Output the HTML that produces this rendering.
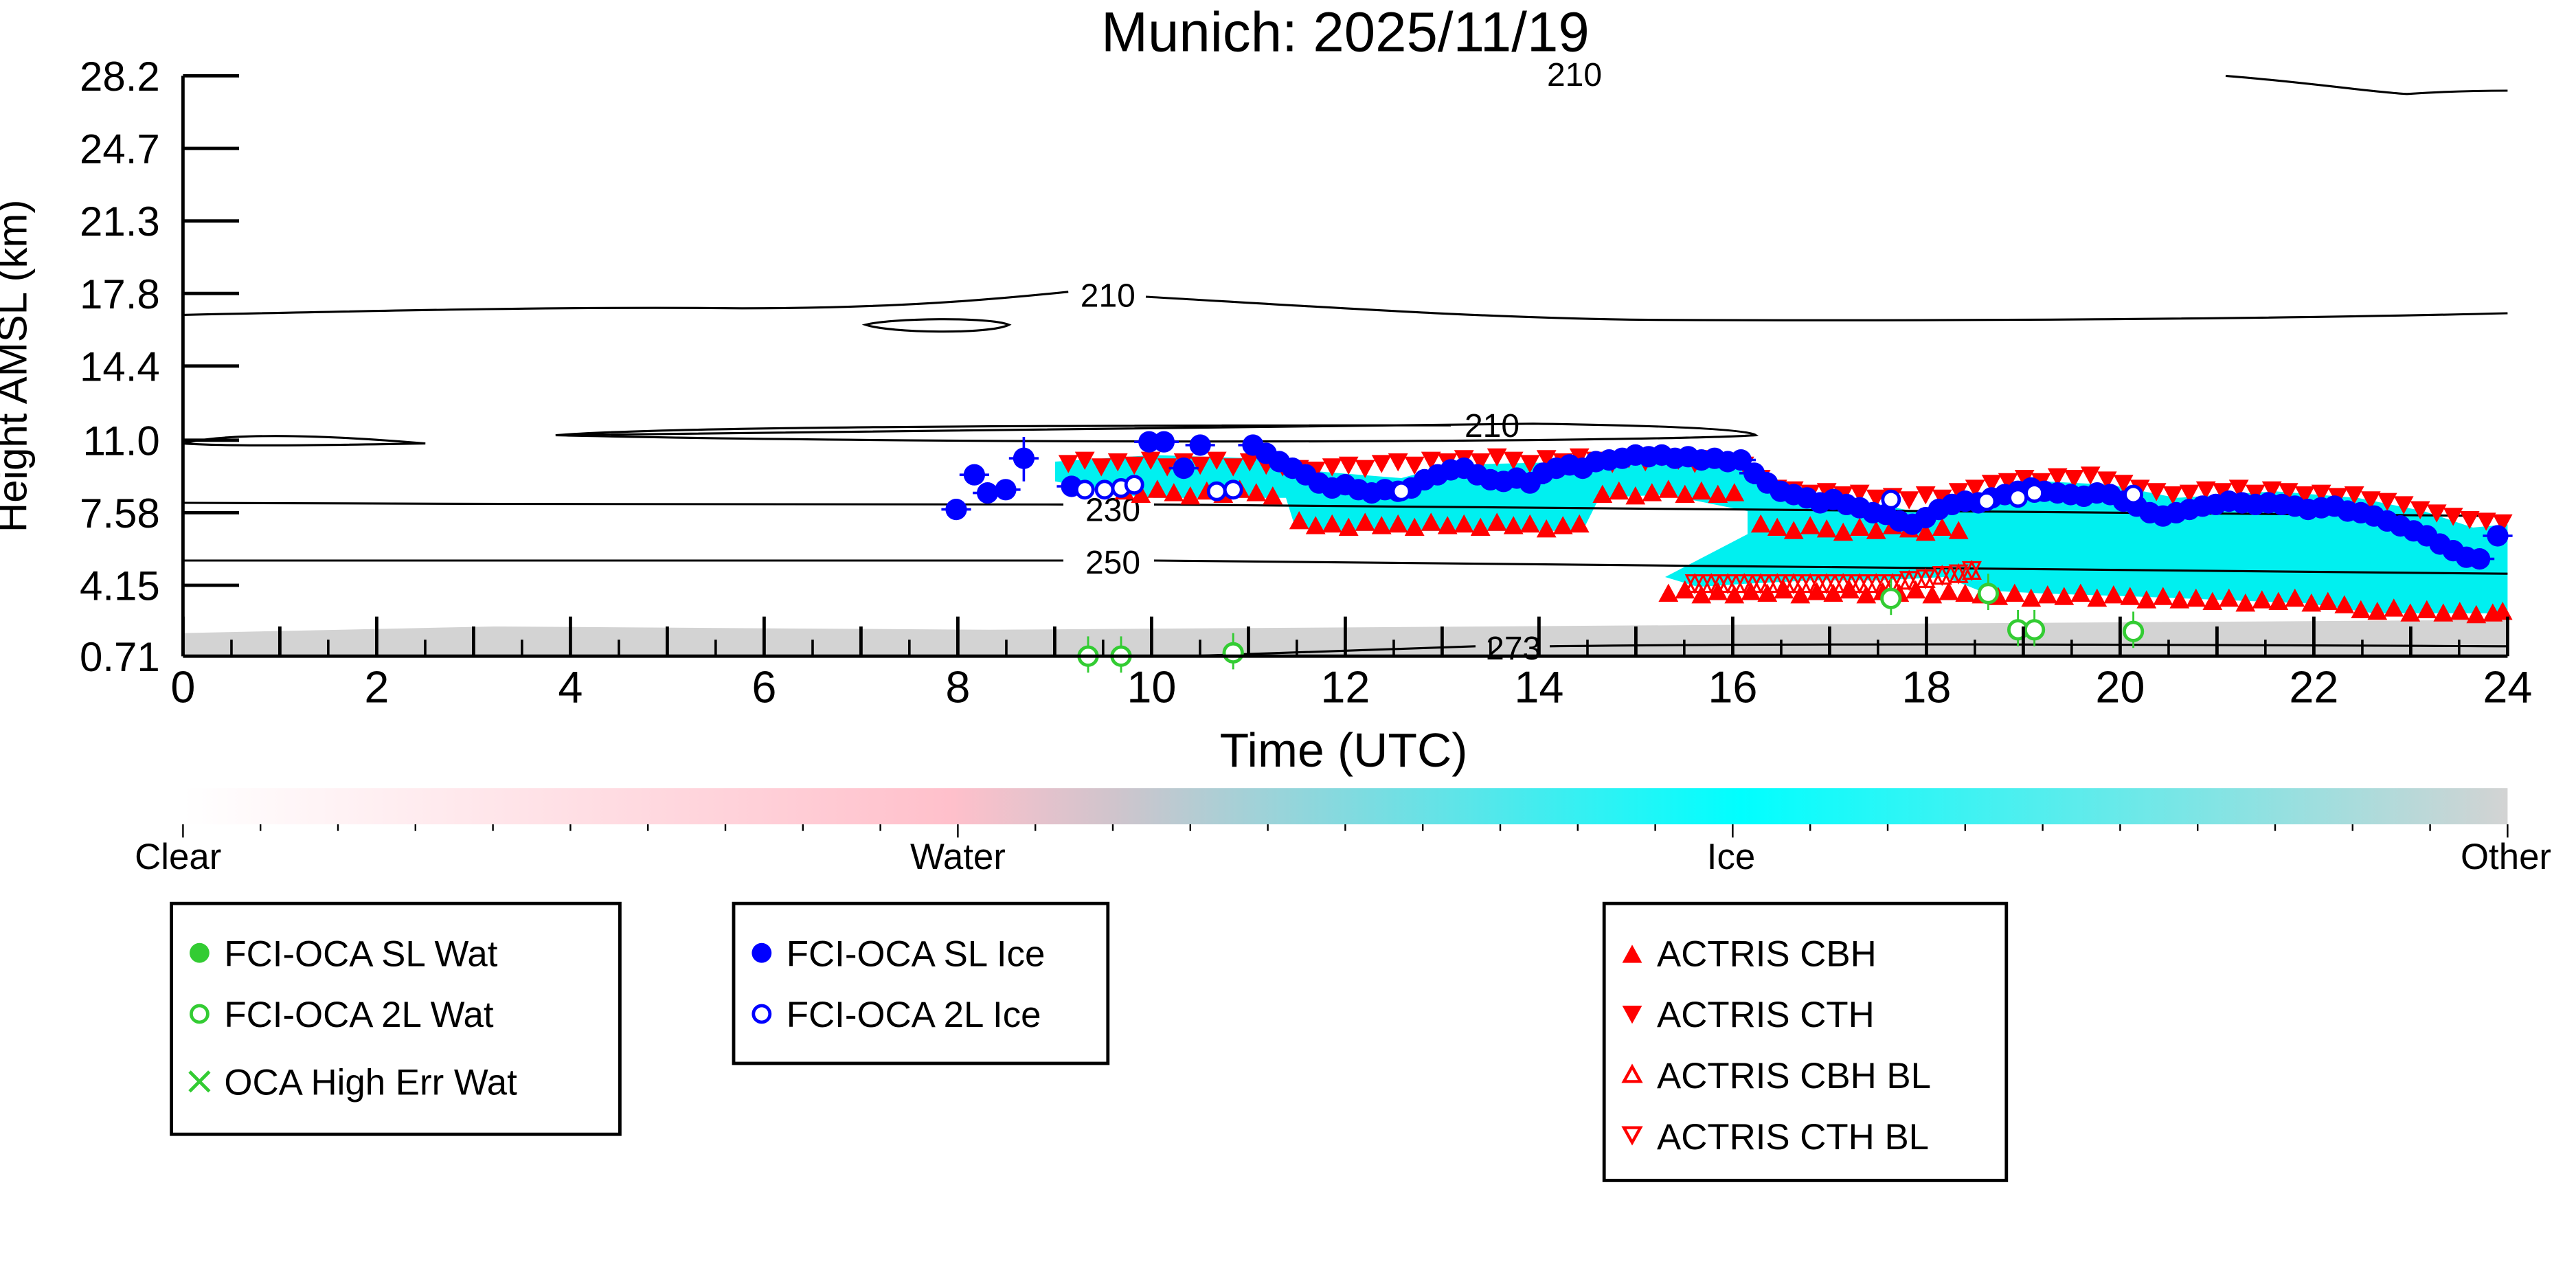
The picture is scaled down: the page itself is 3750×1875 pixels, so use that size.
<!DOCTYPE html>
<html><head><meta charset="utf-8"><style>
html,body{margin:0;padding:0;background:#fff;}
svg{display:block;font-family:"Liberation Sans","DejaVu Sans",sans-serif;}
</style></head><body>
<svg width="3750" height="1875" viewBox="0 0 1562.5 781.25" xmlns="http://www.w3.org/2000/svg">
<defs>
<linearGradient id="cb" x1="0" x2="1" y1="0" y2="0">
<stop offset="0" stop-color="#ffffff"/>
<stop offset="0.33" stop-color="#ffc0cb"/>
<stop offset="0.4" stop-color="#d0c4cc"/>
<stop offset="0.67" stop-color="#00ffff"/>
<stop offset="1" stop-color="#d3d3d3"/>
</linearGradient>
<marker id="dn" markerUnits="userSpaceOnUse" markerWidth="14" markerHeight="14" refX="7" refY="7" overflow="visible"><path d="M1,2 L13,2 L7,13 Z" fill="#ff0000"/></marker>
<marker id="up" markerUnits="userSpaceOnUse" markerWidth="14" markerHeight="14" refX="7" refY="7" overflow="visible"><path d="M1,12 L7,1 L13,12 Z" fill="#ff0000"/></marker>
<marker id="bl" markerUnits="userSpaceOnUse" markerWidth="14" markerHeight="14" refX="7" refY="7" overflow="visible"><path d="M2,2 L12,2 L7,12 Z M2,12 L7,2 L12,12 Z" fill="none" stroke="#ff0000" stroke-width="1.3"/></marker>
<marker id="bd" markerUnits="userSpaceOnUse" markerWidth="20" markerHeight="14" refX="10" refY="7" overflow="visible"><line x1="1" y1="7" x2="19" y2="7" stroke="#0000ff" stroke-width="1.5"/><circle cx="10" cy="7" r="6.5" fill="#0000ff"/></marker>
<marker id="bo" markerUnits="userSpaceOnUse" markerWidth="14" markerHeight="14" refX="7" refY="7" overflow="visible"><circle cx="7" cy="7" r="5" fill="#fff" stroke="#0000ff" stroke-width="2"/></marker>
<marker id="go" markerUnits="userSpaceOnUse" markerWidth="14" markerHeight="30" refX="7" refY="15" overflow="visible"><line x1="7" y1="3" x2="7" y2="25" stroke="#33cc33" stroke-width="1.2"/><circle cx="7" cy="15" r="5.5" fill="#fff" stroke="#33cc33" stroke-width="2"/></marker>
</defs>
<text x="816" y="31" font-size="34" text-anchor="middle">Munich: 2025/11/19</text>
<!-- ground clutter -->
<path d="M111,384 L300,380 L600,382 L900,380 L1200,378 L1521,376 L1521,398 L111,398 Z" fill="#d3d3d3"/>
<!-- cyan cloud -->
<path d="M640,280 L700,276 L760,278 L800,286 L850,290 L880,282 L960,280 L1000,278 L1060,282 L1080,300 L1120,302 L1160,310 L1200,300 L1240,292 L1280,294 L1320,302 L1380,298 L1430,302 L1470,310 L1500,320 L1521,318 L1521,372 L1440,372 L1400,366 L1300,362 L1240,360 L1200,358 L1180,350 L1140,352 L1100,352 L1060,354 L1030,356 L1010,350 L1060,324 L1060,310 L1010,300 L970,302 L960,322 L880,322 L800,322 L785,318 L780,302 L700,302 L680,300 L640,292 Z" fill="#00f0f0"/>
<!-- contours -->
<g fill="none" stroke="#000" stroke-width="1.3">
<path d="M111,191 C250,188 350,186 450,187 C540,187 600,182 648,177 M695,180 C800,186 900,193 1000,194 C1200,195 1400,193 1521,190"/>
<path d="M525,197 C540,193 600,192 612,197 C600,203 540,202 525,197 Z"/>
<path d="M111,269 C140,262 200,264 258,269 C200,270 140,271 111,269"/>
<path d="M337,264 C400,259 600,258 880,258 M930,257 C1000,258 1060,260 1065,264 C1000,268 600,270 337,264 Z"/>
<path d="M111,305 C300,306 600,306 645,306 M700,306 C900,308 1200,311 1521,313"/>
<path d="M111,340 C300,340 600,340 645,340 M700,340 C900,344 1200,347 1521,348"/>
<path d="M720,398 C780,396 840,394 895,392 M940,392 C1100,390 1300,391 1521,392"/>
<path d="M1350,46 C1400,50 1440,56 1460,57 C1490,55 1510,55 1521,55"/>
</g>
<g font-size="20">
<text x="672" y="186" text-anchor="middle">210</text>
<text x="905" y="265" text-anchor="middle">210</text>
<text x="675" y="316" text-anchor="middle">230</text>
<text x="675" y="348" text-anchor="middle">250</text>
<text x="918" y="400" text-anchor="middle">273</text>
<text x="955" y="52" text-anchor="middle">210</text>
</g>
<!-- markers -->
<g fill="none" stroke="none">
<path marker-start="url(#dn)" marker-mid="url(#dn)" marker-end="url(#dn)" d="M648,281 658,279 668,283 678,280 688,282 698,279 708,283 718,280 728,282 738,279 748,283 758,280 768,282 778,283 788,284 798,285 808,283 818,282 828,284 838,281 848,280 858,282 868,279 878,280 888,278 898,280 908,277 918,279 928,281 938,278 948,280 958,277 968,279 978,281 988,278 998,280 1008,277 1018,279 1028,281 1038,278 1048,280 1058,282 1068,290 1078,296 1088,297 1098,299 1108,298 1118,300 1128,299 1138,302 1148,301 1158,303 1168,300 1178,302 1188,298 1198,296 1208,293 1218,292 1228,290 1238,292 1248,289 1258,290 1268,288 1278,291 1288,293 1298,296 1308,298 1318,300 1328,299 1338,297 1348,298 1358,296 1368,299 1378,297 1388,298 1398,300 1408,299 1418,301 1428,300 1438,303 1448,304 1458,306 1468,309 1478,311 1488,313 1498,315 1508,316 1518,317"/>
<path marker-start="url(#up)" marker-mid="url(#up)" marker-end="url(#up)" d="M682,298 692,300 702,297 712,299 722,301 732,298 742,300 752,297 762,299 772,301 M788,316 798,319 808,318 818,320 828,317 838,319 848,318 858,320 868,317 878,319 888,318 898,320 908,317 918,319 928,318 938,321 948,319 958,318 M972,300 982,298 992,301 1002,299 1012,297 1022,300 1032,298 1042,300 1052,299 M1068,318 1078,320 1088,322 1098,319 1108,321 1118,323 1128,320 1138,322 1148,319 1158,321 1168,323 1178,320 1188,322 M1012,360 1022,358 1032,361 1042,359 1052,361 1062,359 1072,360 1082,358 1092,361 1102,359 1112,360 1122,358 1132,361 1142,359 1152,360 1162,358 1172,361 1182,359 1192,360 1202,361 1212,362 1222,360 1232,363 1242,361 1252,362 1262,360 1272,363 1282,361 1292,362 1302,364 1312,362 1322,364 1332,363 1342,365 1352,363 1362,366 1372,364 1382,365 1392,363 1402,366 1412,365 1422,367 1432,370 1442,371 1452,369 1462,372 1472,370 1482,372 1492,371 1502,373 1512,372 1518,371"/>
<path marker-start="url(#bl)" marker-mid="url(#bl)" marker-end="url(#bl)" d="M1028,354 1038,354 1048,354 1058,354 1068,354 1078,354 1088,354 1098,354 1108,354 1118,354 1128,354 1138,354 1148,354 1158,352 1168,351 1178,349 1188,348 1196,346"/>
<path marker-start="url(#bd)" marker-mid="url(#bd)" marker-end="url(#bd)" d="M580,309 591,288 599,299 610,297 621,278 650,295 697,268 706,268 718,284 728,270 760,270 768,275 776,280 784,284 792,288 800,293 808,296 816,294 824,297 832,299 840,297 848,298 856,296 864,291 872,288 880,285 888,284 896,288 904,291 912,292 920,290 928,293 936,287 944,284 952,282 960,284 968,280 976,279 984,278 992,276 1000,277 1008,276 1016,278 1024,277 1032,279 1040,278 1048,280 1056,279 1064,287 1072,293 1080,298 1088,300 1096,302 1104,305 1112,303 1120,306 1128,308 1136,311 1144,312 1152,316 1160,318 1168,314 1176,309 1184,306 1192,304 1200,305 1208,302 1216,300 1224,298 1232,296 1240,298 1248,299 1256,300 1264,301 1272,299 1280,300 1288,304 1296,307 1304,311 1312,313 1320,311 1328,309 1336,307 1344,306 1352,304 1360,305 1368,306 1376,305 1384,306 1392,307 1400,309 1408,308 1416,307 1424,310 1432,311 1440,313 1448,316 1456,319 1464,322 1472,325 1480,330 1488,334 1496,338 1504,339 1515,325"/>
<path marker-start="url(#bo)" marker-mid="url(#bo)" marker-end="url(#bo)" d="M658,297 670,297 680,296 688,294 738,298 748,297 850,298 1147,303 1205,304 1224,302 1234,299 1294,300"/>
<path marker-start="url(#go)" marker-mid="url(#go)" marker-end="url(#go)" d="M1147,363 1206,360 1224,382 1234,382 1294,383 748,396 660,398 680,398"/>
</g>
<line x1="621" y1="265" x2="621" y2="292" stroke="#0000ff" stroke-width="1.5"/>
<!-- axes -->
<g stroke="#000" stroke-width="2">
<line x1="111" y1="46" x2="111" y2="398"/>
<line x1="111" y1="398" x2="1521" y2="398"/>
<path d="M111,46h34 M111,90h34 M111,134h34 M111,178h34 M111,222h34 M111,267h34 M111,311h34 M111,355h34"/>
<path d="M111,398v-24 M169.75,398v-18 M228.5,398v-24 M287.25,398v-18 M346,398v-24 M404.75,398v-18 M463.5,398v-24 M522.25,398v-18 M581,398v-24 M639.75,398v-18 M698.5,398v-24 M757.25,398v-18 M816,398v-24 M874.75,398v-18 M933.5,398v-24 M992.25,398v-18 M1051,398v-24 M1109.75,398v-18 M1168.5,398v-24 M1227.25,398v-18 M1286,398v-24 M1344.75,398v-18 M1403.5,398v-24 M1462.25,398v-18 M1521,398v-24"/>
</g>
<path stroke="#000" stroke-width="1.5" d="M140.4,398v-10 M199.1,398v-10 M257.9,398v-10 M316.6,398v-10 M375.4,398v-10 M434.1,398v-10 M492.9,398v-10 M551.6,398v-10 M610.4,398v-10 M669.1,398v-10 M727.9,398v-10 M786.6,398v-10 M845.4,398v-10 M904.1,398v-10 M962.9,398v-10 M1021.6,398v-10 M1080.4,398v-10 M1139.1,398v-10 M1197.9,398v-10 M1256.6,398v-10 M1315.4,398v-10 M1374.1,398v-10 M1432.9,398v-10 M1491.6,398v-10"/>
<g font-size="25" text-anchor="end">
<text x="97" y="55">28.2</text><text x="97" y="99">24.7</text><text x="97" y="143">21.3</text><text x="97" y="187">17.8</text><text x="97" y="231">14.4</text><text x="97" y="276">11.0</text><text x="97" y="320">7.58</text><text x="97" y="364">4.15</text><text x="97" y="407">0.71</text>
</g>
<g font-size="27" text-anchor="middle">
<text x="111" y="426">0</text><text x="228.5" y="426">2</text><text x="346" y="426">4</text><text x="463.5" y="426">6</text><text x="581" y="426">8</text><text x="698.5" y="426">10</text><text x="816" y="426">12</text><text x="933.5" y="426">14</text><text x="1051" y="426">16</text><text x="1168.5" y="426">18</text><text x="1286" y="426">20</text><text x="1403.5" y="426">22</text><text x="1521" y="426">24</text>
</g>
<text x="815" y="465" font-size="29" text-anchor="middle">Time (UTC)</text>
<text transform="translate(16,222) rotate(-90)" font-size="25" text-anchor="middle">Height AMSL (km)</text>
<!-- colorbar -->
<rect x="111" y="478" width="1410" height="22" fill="url(#cb)"/>
<path stroke="#000" stroke-width="1" d="M111,500v8 M158,500v4 M205,500v4 M252,500v4 M299,500v4 M346,500v4 M393,500v4 M440,500v4 M487,500v4 M534,500v4 M581,500v8 M628,500v4 M675,500v4 M722,500v4 M769,500v4 M816,500v4 M863,500v4 M910,500v4 M957,500v4 M1004,500v4 M1051,500v8 M1098,500v4 M1145,500v4 M1192,500v4 M1239,500v4 M1286,500v4 M1333,500v4 M1380,500v4 M1427,500v4 M1474,500v4 M1521,500v8"/>
<g font-size="22" text-anchor="middle">
<text x="108" y="527">Clear</text><text x="581" y="527">Water</text><text x="1050" y="527">Ice</text><text x="1520" y="527">Other</text>
</g>
<!-- legends -->
<g fill="none" stroke="#000" stroke-width="2">
<rect x="104" y="548" width="272" height="140"/>
<rect x="445" y="548" width="227" height="97"/>
<rect x="973" y="548" width="244" height="168"/>
</g>
<g font-size="22">
<circle cx="121" cy="578" r="6" fill="#33cc33"/><text x="136" y="586">FCI-OCA SL Wat</text>
<circle cx="121" cy="615" r="5" fill="none" stroke="#33cc33" stroke-width="2"/><text x="136" y="623">FCI-OCA 2L Wat</text>
<path d="M115,650 L127,662 M127,650 L115,662" stroke="#33cc33" stroke-width="2"/><text x="136" y="664">OCA High Err Wat</text>
<circle cx="462" cy="578" r="6" fill="#0000ff"/><text x="477" y="586">FCI-OCA SL Ice</text>
<circle cx="462" cy="615" r="5" fill="none" stroke="#0000ff" stroke-width="2"/><text x="477" y="623">FCI-OCA 2L Ice</text>
<path d="M984,584 L990,573 L996,584 Z" fill="#ff0000"/><text x="1005" y="586">ACTRIS CBH</text>
<path d="M984,610 L996,610 L990,621 Z" fill="#ff0000"/><text x="1005" y="623">ACTRIS CTH</text>
<path d="M985,656 L990,647 L995,656 Z" fill="none" stroke="#ff0000" stroke-width="1.8"/><text x="1005" y="660">ACTRIS CBH BL</text>
<path d="M985,684 L995,684 L990,693 Z" fill="none" stroke="#ff0000" stroke-width="1.8"/><text x="1005" y="697">ACTRIS CTH BL</text>
</g>
</svg>
</body></html>
